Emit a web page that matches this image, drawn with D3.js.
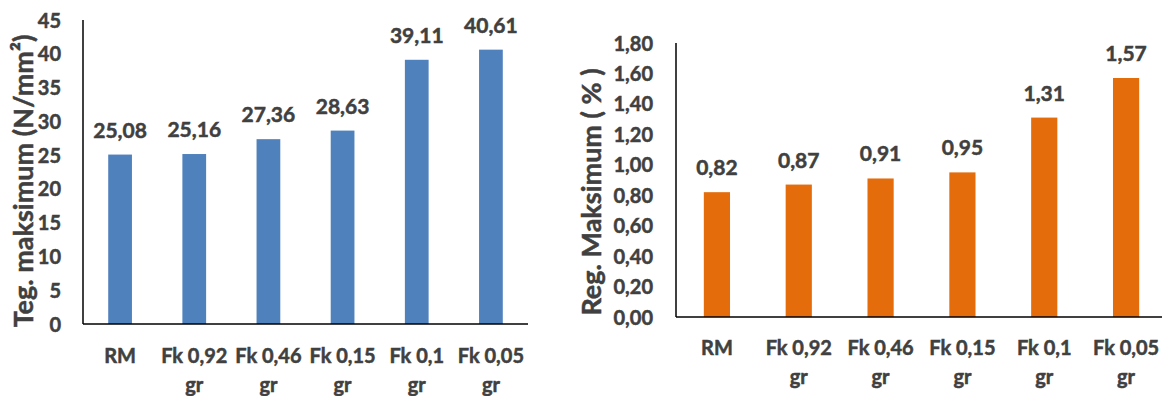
<!DOCTYPE html>
<html>
<head>
<meta charset="utf-8">
<script src="https://cdn.jsdelivr.net/npm/d3@7"></script>
<style>
  body { margin: 0; background: #fff; }
  text { font-family: Lato, "Open Sans", sans-serif; font-weight: bold; fill: #404040; stroke: #404040; stroke-width: 0.5px; }
</style>
</head>
<body>
<svg id="chart"></svg>
<script>
// chart values
const categories = ['RM', 'Fk 0,92 gr', 'Fk 0,46 gr', 'Fk 0,15 gr', 'Fk 0,1 gr', 'Fk 0,05 gr'];
const tegValues = [25.08, 25.16, 27.36, 28.63, 39.11, 40.61];
const regValues = [0.82, 0.87, 0.91, 0.95, 1.31, 1.57];
const tegTicks = [0, 5, 10, 15, 20, 25, 30, 35, 40, 45];
const regTicks = [0, 0.2, 0.4, 0.6, 0.8, 1.0, 1.2, 1.4, 1.6, 1.8];

const locale = d3.formatLocale({decimal: ',', thousands: '.', grouping: [3], currency: ['', '']});

const svg = d3.select('#chart')
    .attr('width', 1162)
    .attr('height', 396);

function drawChart(cfg) {
  const g = svg.append('g');

  const xScale = d3.scaleBand()
      .domain(categories)
      .range([cfg.left, cfg.right])
      .paddingInner(0.68)
      .paddingOuter(0.34);

  const yScale = d3.scaleLinear()
      .domain([0, cfg.max])
      .range([cfg.bottom, cfg.top]);

  // bars
  g.selectAll('.bar')
    .data(cfg.values)
    .join('rect')
      .attr('class', 'bar')
      .attr('x', (d, i) => xScale(categories[i]))
      .attr('y', d => yScale(d))
      .attr('width', xScale.bandwidth())
      .attr('height', d => cfg.bottom - yScale(d))
      .attr('fill', cfg.color);

  // data labels
  g.selectAll('.value')
    .data(cfg.values)
    .join('text')
      .attr('class', 'value')
      .attr('x', (d, i) => xScale(categories[i]) + xScale.bandwidth() / 2)
      .attr('y', d => yScale(d) - cfg.labelGap)
      .attr('text-anchor', 'middle')
      .style('font-size', '21px')
      .text(d => locale.format(',.2f')(d));

  // y axis (labels only, black line drawn separately)
  const yAxis = d3.axisLeft(yScale)
      .tickValues(cfg.ticks)
      .tickSize(0)
      .tickPadding(cfg.tickPad)
      .tickFormat(cfg.tickFormat);

  const yAxisG = g.append('g')
      .attr('transform', `translate(${cfg.left},0)`)
      .call(yAxis);
  yAxisG.select('.domain').remove();
  yAxisG.selectAll('text')
      .attr('dy', '0.35em')
      .style('font-size', '20px')
      .style('fill', '#404040');

  g.append('line')
      .attr('x1', cfg.left).attr('x2', cfg.left)
      .attr('y1', cfg.top).attr('y2', cfg.bottom)
      .attr('stroke', '#000').attr('stroke-width', 1.5);

  g.append('line')
      .attr('x1', cfg.left).attr('x2', cfg.axisEnd)
      .attr('y1', cfg.bottom).attr('y2', cfg.bottom)
      .attr('stroke', '#000').attr('stroke-width', 1.5);

  // x labels, wrapped at "gr"
  const xl = g.selectAll('.xlabel')
    .data(categories)
    .join('text')
      .attr('class', 'xlabel')
      .attr('text-anchor', 'middle')
      .attr('x', d => xScale(d) + xScale.bandwidth() / 2)
      .attr('y', cfg.bottom + cfg.xLabelOffset)
      .style('font-size', '20px');

  xl.each(function(d) {
    const lines = d.endsWith(' gr') ? [d.slice(0, -3), 'gr'] : [d];
    const t = d3.select(this);
    lines.forEach((line, i) => {
      t.append('tspan')
        .attr('x', xScale(d) + xScale.bandwidth() / 2)
        .attr('dy', i === 0 ? 0 : 29)
        .text(line);
    });
  });

  // axis title
  g.append('text')
      .attr('transform', `translate(${cfg.titleX},${cfg.titleY}) rotate(-90)`)
      .attr('text-anchor', 'middle')
      .attr('dy', '0.35em')
      .style('font-size', '27px')
      .text(cfg.title);
}

drawChart({
  values: tegValues, ticks: tegTicks, max: 45,
  left: 83, right: 528, axisEnd: 528, top: 20, bottom: 324,
  color: '#4F81BD', labelGap: 17, tickPad: 22,
  tickFormat: d => locale.format('d')(d),
  xLabelOffset: 39, titleX: 24, titleY: 181,
  title: 'Teg. maksimum (N/mm²)'
});

drawChart({
  values: regValues, ticks: regTicks, max: 1.8,
  left: 676, right: 1167, axisEnd: 1162, top: 43, bottom: 317,
  color: '#E46C0A', labelGap: 17, tickPad: 23,
  tickFormat: d => locale.format('.2f')(d),
  xLabelOffset: 38, titleX: 592, titleY: 192,
  title: 'Reg. Maksimum ( % )'
});
</script>
</body>
</html>
